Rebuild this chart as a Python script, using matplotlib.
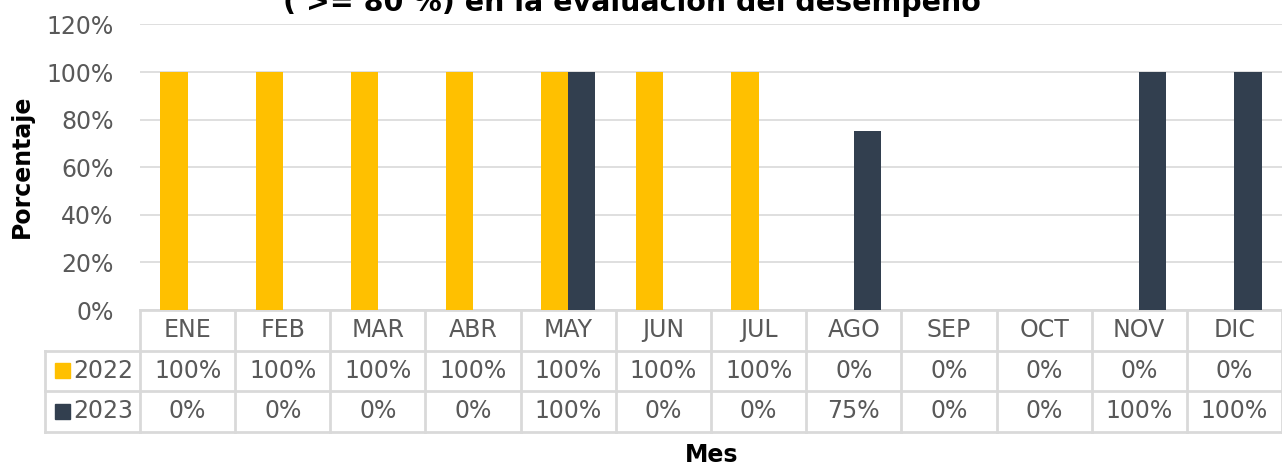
import matplotlib
matplotlib.use("Agg")
import matplotlib.pyplot as plt
from matplotlib.patches import Rectangle
import matplotlib.transforms as mtransforms

meses = ["ENE", "FEB", "MAR", "ABR", "MAY", "JUN", "JUL", "AGO", "SEP", "OCT", "NOV", "DIC"]
serie_2022 = [100, 100, 100, 100, 100, 100, 100, 0, 0, 0, 0, 0]
serie_2023 = [0, 0, 0, 0, 100, 0, 0, 75, 0, 0, 100, 100]
anios = ["2022", "2023"]
colores = ["#FFC000", "#323F4F"]

plt.rcParams['font.family'] = ['DejaVu Sans']
gris = "#595959"
borde = "#D9D9D9"
fs = 17

fig = plt.figure(figsize=(12.82, 4.66), dpi=100)
ax = fig.add_axes([140 / 1282, 1 - 310 / 466, 1 - 140 / 1282, 285.6 / 466])

x = list(range(len(meses)))
w = 0.285
ax.bar([i - w / 2 for i in x], serie_2022, width=w, color=colores[0], zorder=3)
ax.bar([i + w / 2 for i in x], serie_2023, width=w, color=colores[1], zorder=3)

ax.set_xlim(-0.5, 11.5)
ax.set_ylim(0, 120)
ax.set_yticks(range(0, 121, 20))
ax.set_yticklabels([str(v) + "%" for v in range(0, 121, 20)], fontsize=fs, color=gris)
ax.tick_params(axis='y', length=0, pad=19)
ax.set_xticks([])
for s in ax.spines.values():
    s.set_visible(False)
ax.yaxis.grid(True, color=borde, linewidth=1.2, zorder=0)

# tabla de datos debajo del grafico
tr = mtransforms.blended_transform_factory(ax.transData, ax.transAxes)
rh = 40.5 / 285.6
filas_y = [0, -rh, -2 * rh, -3 * rh]
lk = dict(color=borde, linewidth=2, transform=tr, clip_on=False)
ax.plot([-0.5, 11.5], [0, 0], **lk)
for yy in filas_y[1:]:
    ax.plot([-1.5, 11.5], [yy, yy], **lk)
for b in range(13):
    ax.plot([b - 0.5, b - 0.5], [0, filas_y[3]], **lk)
ax.plot([-1.5, -1.5], [filas_y[1], filas_y[3]], **lk)

for i, m in enumerate(meses):
    ax.text(i, -rh / 2, m, ha='center', va='center', fontsize=fs, color=gris, transform=tr)
    ax.text(i, -rh * 1.5, str(serie_2022[i]) + "%", ha='center', va='center', fontsize=fs, color=gris, transform=tr)
    ax.text(i, -rh * 2.5, str(serie_2023[i]) + "%", ha='center', va='center', fontsize=fs, color=gris, transform=tr)

for k, anio in enumerate(anios):
    yc = -rh * (1.5 + k)
    ax.add_patch(Rectangle((-1.39, yc - 7.5 / 285.6), 0.155, 15 / 285.6, color=colores[k],
                           transform=tr, clip_on=False))
    ax.text(-1.2, yc, anio, ha='left', va='center', fontsize=fs, color=gris, transform=tr)

fig.text(632 / 1282, 1 - 11 / 466, "( >= 80 %) en la evaluación del desempeño", ha='center',
         va='baseline', fontsize=20.5, fontweight='bold', color='black')
fig.text(22 / 1282, 1 - 166 / 466, "Porcentaje", rotation=90, ha='center', va='center',
         fontsize=17, fontweight='bold', color='black')
fig.text(712 / 1282, 1 - 455 / 466, "Mes", ha='center', va='center',
         fontsize=17, fontweight='bold', color='black')

fig.savefig("out.png", dpi=100)
